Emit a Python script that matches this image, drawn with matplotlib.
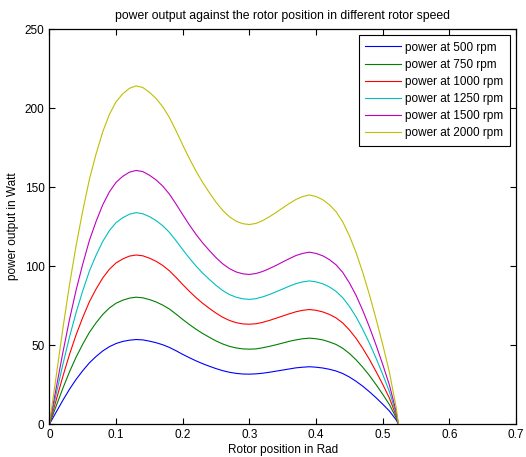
import numpy as np
import matplotlib
matplotlib.use('Agg')
import matplotlib.pyplot as plt
from matplotlib.ticker import FormatStrFormatter

plt.rcParams['font.family'] = ['Liberation Sans', 'DejaVu Sans']

# rotor position (rad)
theta = [0.00, 0.01, 0.02, 0.03, 0.04, 0.05, 0.06, 0.07, 0.08, 0.09,
         0.10, 0.11, 0.12, 0.13, 0.14, 0.15, 0.16, 0.17, 0.18, 0.19,
         0.20, 0.21, 0.22, 0.23, 0.24, 0.25, 0.26, 0.27, 0.28, 0.29,
         0.30, 0.31, 0.32, 0.33, 0.34, 0.35, 0.36, 0.37, 0.38, 0.39,
         0.40, 0.41, 0.42, 0.43, 0.44, 0.45, 0.46, 0.47, 0.48, 0.49,
         0.50, 0.51, 0.52, 0.5236]

# power output (W)
p500 = [0, 7.5, 15, 22, 28.3, 33.8, 38.8, 42.8, 46.3, 49,
        51, 52.3, 53.1, 53.5, 53.3, 52.5, 51.5, 50.2, 48.5, 46.4,
        44.1, 42, 40, 38.2, 36.6, 35.1, 33.8, 32.8, 32.1, 31.7,
        31.6, 31.8, 32.2, 32.8, 33.5, 34.2, 34.9, 35.6, 36, 36.3,
        36, 35.5, 34.7, 33.6, 32, 29.8, 27.1, 24, 20.5, 16.7,
        12.6, 8.3, 2.8, 0]
p750 = [0, 11.3, 22.5, 33, 42.4, 50.6, 58.1, 64.1, 69.4, 73.5,
        76.5, 78.4, 79.7, 80.3, 79.9, 78.8, 77.3, 75.3, 72.8, 69.6,
        66.2, 63, 60, 57.3, 54.9, 52.6, 50.7, 49.2, 48.2, 47.6,
        47.4, 47.6, 48.3, 49.2, 50.2, 51.3, 52.4, 53.3, 54, 54.4,
        54, 53.3, 52, 50.4, 48, 44.7, 40.7, 36, 30.8, 25,
        18.9, 12.4, 4.1, 0]
p1000 = [0, 15, 30, 44, 56.5, 67.5, 77.5, 85.5, 92.5, 98,
         102, 104.5, 106.3, 107, 106.5, 105, 103, 100.4, 97, 92.8,
         88.3, 84, 80, 76.4, 73.2, 70.2, 67.6, 65.6, 64.2, 63.4,
         63.2, 63.5, 64.4, 65.6, 67, 68.4, 69.8, 71.1, 72, 72.5,
         72, 71, 69.4, 67.2, 64, 59.6, 54.3, 48, 41, 33.3,
         25.2, 16.5, 5.5, 0]
p1250 = [0, 18.8, 37.5, 55, 70.6, 84.4, 96.9, 106.9, 115.6, 122.5,
         127.5, 130.6, 132.8, 133.8, 133.1, 131.3, 128.8, 125.5, 121.3, 116,
         110.4, 105, 100, 95.5, 91.5, 87.8, 84.5, 82, 80.3, 79.3,
         78.9, 79.4, 80.5, 82, 83.7, 85.5, 87.3, 88.9, 90, 90.6,
         90, 88.8, 86.8, 84, 80, 74.5, 67.9, 60, 51.3, 41.7,
         31.5, 20.6, 6.9, 0]
p1500 = [0, 22.5, 45, 66, 84.8, 101.3, 116.3, 128.3, 138.8, 147,
         153, 156.8, 159.4, 160.5, 159.8, 157.5, 154.5, 150.6, 145.5, 139.2,
         132.5, 126, 120, 114.6, 109.8, 105.3, 101.4, 98.4, 96.3, 95.1,
         94.7, 95.3, 96.6, 98.4, 100.4, 102.6, 104.7, 106.7, 108, 108.8,
         108, 106.5, 104.1, 100.8, 96, 89.4, 81.5, 72, 61.5, 50,
         37.8, 24.8, 8.3, 0]
p2000 = [0, 30, 60, 88, 113, 135, 155, 171, 185, 196,
         204, 209, 212.5, 214, 213, 210, 206, 200.8, 194, 185.6,
         176.6, 168, 160, 152.8, 146.4, 140.4, 135.2, 131.2, 128.4, 126.8,
         126.3, 127, 128.8, 131.2, 133.9, 136.8, 139.6, 142.2, 144, 145,
         144, 142, 138.8, 134.4, 128, 119.2, 108.6, 96, 82, 66.6,
         50.4, 33, 11, 0]

series = [p500, p750, p1000, p1250, p1500, p2000]
labels = ['power at 500 rpm', 'power at 750 rpm', 'power at 1000 rpm',
          'power at 1250 rpm', 'power at 1500 rpm', 'power at 2000 rpm']
# matlab default line colours
colors = ['#0000ff', '#008000', '#ff0000', '#00bfbf', '#bf00bf', '#bfbf00']

fig = plt.figure(figsize=(5.26, 4.57), dpi=100)
ax = fig.add_axes([0.094, 0.072, 0.887, 0.8645])

for y, lab, c in zip(series, labels, colors):
    ax.plot(theta, y, color=c, lw=0.8, label=lab)

ax.set_xlim(0, 0.7)
ax.set_ylim(0, 250)
ax.set_xticks(np.arange(0, 0.71, 0.1))
ax.set_yticks(np.arange(0, 251, 50))
ax.xaxis.set_major_formatter(FormatStrFormatter('%g'))
ax.tick_params(direction='in', top=True, right=True, labelsize=8.5, length=4, width=0.8)
for s in ax.spines.values():
    s.set_linewidth(0.9)

ax.set_title('power output against the rotor position in different rotor speed', fontsize=8.8, pad=7)
ax.set_xlabel('Rotor position in Rad', fontsize=8.5, labelpad=2)
ax.set_ylabel('power output in Watt', fontsize=8.5, labelpad=4)

leg = ax.legend(loc='upper right', bbox_to_anchor=(0.9871, 0.9848), fontsize=8.5,
                frameon=True, fancybox=False, edgecolor='black', framealpha=1,
                handlelength=3.05, labelspacing=0.44, borderaxespad=0,
                handletextpad=0.34, borderpad=0.55)
leg.get_frame().set_linewidth(0.8)

fig.savefig('out.png', dpi=100)
